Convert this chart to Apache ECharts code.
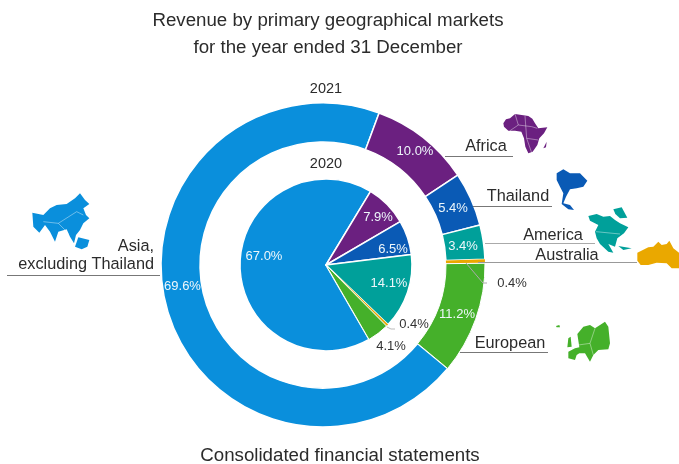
<!DOCTYPE html>
<html><head><meta charset="utf-8">
<style>html,body{margin:0;padding:0;background:#fff}#c{width:679px;height:464px}</style>
<script src="https://cdn.jsdelivr.net/npm/echarts@6/dist/echarts.min.js"></script>
</head><body><div id="c"></div>
<script>
const categories = ['Asia, excluding Thailand','Africa','Thailand','America','Australia','European'];
const values2021 = [69.6,10.0,5.4,3.4,0.4,11.2];
const values2020 = [67.0,7.9,6.5,14.1,0.4,4.1];
const palette = ['#0a8fdc','#6b2080','#0a5ab5','#00a09a','#eaa800','#45b02a'];
const FONT = '"Liberation Sans"';
const TXT = '#2b2b2b';

// label placement overrides, in canvas pixels
const outerPos = [[182.5,286],[415,151],[453,208],[463,246],[512,283],[457,314]];
const innerPos = [[264,256],[378,217],[393,249],[389,283],[414,324],[391,346]];

function seriesOf(values, center, radius, startAngle, pos){
  return {
    type:'pie', center, radius, startAngle, clockwise:true, silent:true, animation:false,
    data: values.map((v,i)=>({
      name:categories[i], value:v,
      itemStyle:{color:palette[i], borderColor:i===4?palette[4]:'#fff', borderWidth:i===4?0:(i===5?1:1.5)},
      label:{color:(i===4||(i===5&&pos===innerPos))?'#333':'#eef7fb'}
    })),
    label:{show:true, position:'inside', fontFamily:FONT, fontSize:13,
      formatter:p=>p.value.toFixed(1)+'%'},
    labelLine:{show:false},
    labelLayout:p=>({x:pos[p.dataIndex][0], y:pos[p.dataIndex][1], align:'center', verticalAlign:'middle'})
  };
}

// decorative map silhouettes, sketched from the reference
function shape(origin, pts, fill){
  return {type:'polygon', silent:true, z:10, shape:{points:pts.map(p=>[origin[0]+p[0]/3, origin[1]+p[1]/3])}, style:{fill}};
}
function stroke(origin, pts){
  return {type:'polyline', silent:true, z:10, shape:{points:pts.map(p=>[origin[0]+p[0]/3, origin[1]+p[1]/3])}, style:{stroke:'#fff', lineWidth:0.5, fill:null, opacity:0.8}};
}
const o1=[400,90], o3=[0,190], o4=[540,310];
const maps=[
  shape(o1,[[310,100],[318,88],[330,85],[345,72],[365,75],[385,78],[397,86],[405,100],[415,115],[442,112],[432,130],[418,145],[412,165],[398,185],[385,190],[376,170],[372,145],[364,125],[345,122],[325,122],[312,110]],palette[1]),
  shape(o1,[[430,175],[440,155],[438,172]],palette[1]),
  stroke(o1,[[345,72],[355,105],[330,122]]),stroke(o1,[[355,105],[395,110],[412,115]]),stroke(o1,[[375,78],[380,145],[415,150]]),stroke(o1,[[380,145],[395,188]]),
  shape(o1,[[470,250],[490,238],[510,250],[540,250],[562,272],[550,290],[530,295],[510,298],[498,320],[490,340],[510,345],[522,360],[505,358],[485,342],[490,310],[480,290],[470,270]],palette[2]),
  shape(o1,[[565,378],[590,372],[610,380],[630,378],[645,390],[660,400],[685,412],[672,430],[652,445],[645,470],[625,462],[640,488],[625,485],[600,462],[590,445],[585,425],[595,405],[570,392]],palette[3]),
  shape(o1,[[640,358],[665,352],[682,383],[660,385],[646,372]],palette[3]),
  shape(o1,[[655,468],[695,475],[670,480]],palette[3]),
  stroke(o1,[[588,425],[660,432]]),
  shape(o1,[[712,488],[745,472],[760,470],[775,455],[785,465],[800,462],[808,452],[820,475],[845,495],[845,535],[815,535],[800,520],[770,518],[745,525],[722,525],[712,512]],palette[4]),
  shape(o4,[[85,125],[105,115],[118,112],[112,72],[130,50],[150,45],[165,55],[195,35],[205,50],[210,100],[205,118],[175,120],[160,135],[150,155],[135,130],[118,130],[110,135],[105,150],[85,145]],palette[5]),
  shape(o4,[[48,48],[58,45],[60,52],[50,52]],palette[5]),
  shape(o4,[[85,85],[92,80],[95,110],[82,112]],palette[5]),
  stroke(o4,[[115,105],[150,100],[160,135]]),stroke(o4,[[150,100],[165,55]]),
  shape(o3,[[97,68],[130,75],[150,55],[170,45],[200,42],[225,25],[240,10],[255,30],[268,42],[250,55],[258,75],[268,85],[250,100],[240,120],[228,135],[222,160],[210,140],[200,118],[175,125],[165,155],[150,125],[135,105],[118,128],[100,110]],palette[0]),
  shape(o3,[[235,142],[268,150],[262,170],[245,178],[225,170]],palette[0]),
  stroke(o3,[[130,95],[175,100],[230,65],[250,75]]),stroke(o3,[[175,100],[205,130]])
];

function line(x1,y1,x2,y2,color,w){
  return {type:'line',silent:true,z:10,shape:{x1,y1,x2,y2},style:{stroke:color||'#777',lineWidth:w||1}};
}
function poly(pts,color){
  return {type:'polyline',silent:true,z:10,shape:{points:pts},style:{stroke:color,lineWidth:1,fill:null}};
}
function text(x,y,t,size,align){
  return {type:'text',silent:true,z:10,x,y,style:{text:t,fontFamily:FONT,fontSize:size,fill:TXT,align:align||'center',verticalAlign:'middle'}};
}
const leaders=[
  line(445,156.5,513,156.5),line(473,206.5,552,206.5),line(485,243.5,595,243.5,'#aaa'),line(478,262.5,637,262.5,'#999'),
  line(460,352.5,548,352.5),line(7,275.5,160,275.5),
  poly([[466,263],[483,283],[487,283]],'#aaa'),poly([[387,327],[391,329],[395,329]],'#bbb')
];
const texts=[
  text(328,21,'Revenue by primary geographical markets',18.7),
  text(328,48,'for the year ended 31 December',18.7),
  text(326,89,'2021',14.5),text(326,164,'2020',14.5),
  text(486,147,'Africa',16.3),text(518,197,'Thailand',16.3),text(553,236,'America',16.3),text(567,256,'Australia',16.3),text(510,344,'European',16.3),
  text(154,247,'Asia,',16.3,'right'),text(154,265,'excluding Thailand',16.3,'right'),
  text(340,456,'Consolidated financial statements',18.7)
];

const chart=echarts.init(document.getElementById('c'),null,{renderer:'canvas'});
chart.setOption({
  backgroundColor:'#fff', animation:false,
  series:[seriesOf(values2021,[323,265],[123,162],-39.7,outerPos),seriesOf(values2020,[326,265],[0,86],-60,innerPos)],
  graphic:{elements:[...maps,...leaders,...texts]}
});
</script></body></html>
